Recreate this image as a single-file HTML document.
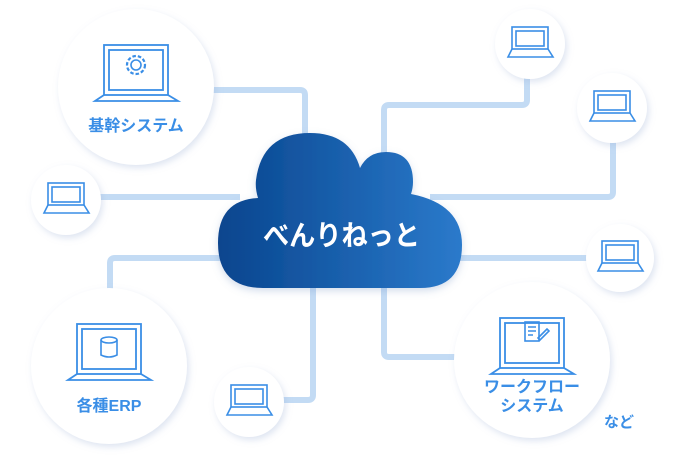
<!DOCTYPE html>
<html><head><meta charset="utf-8"><style>
html,body{margin:0;padding:0;background:#fff;}
svg{display:block;}
.t{font-family:"Liberation Sans","Noto Sans CJK JP",sans-serif;font-weight:bold;fill:#3a8ee6;}
</style></head><body>
<svg width="680" height="468" viewBox="0 0 680 468" xmlns="http://www.w3.org/2000/svg">
<defs>
<filter id="sh" x="-30%" y="-30%" width="160%" height="160%">
<feDropShadow dx="2" dy="3" stdDeviation="3.5" flood-color="#9fb4d6" flood-opacity="0.35"/>
</filter>
<filter id="sh2" x="-20%" y="-20%" width="140%" height="140%">
<feDropShadow dx="0" dy="3" stdDeviation="4" flood-color="#6d8fbf" flood-opacity="0.3"/>
</filter>
<linearGradient id="cg" gradientUnits="userSpaceOnUse" x1="218" y1="0" x2="462" y2="0">
<stop offset="0" stop-color="#08458e"/>
<stop offset="1" stop-color="#2b7acb"/>
</linearGradient>
<g id="sl" fill="none" stroke="#3a8ee6" stroke-width="1.6">
<rect x="-18" y="-17" width="36" height="22"/>
<rect x="-14" y="-13" width="28" height="15"/>
<path d="M-18 5 L-22 13 L23 13 L18 5"/>
</g>
<g id="bl" fill="none" stroke="#3a8ee6" stroke-width="1.8">
<rect x="-32" y="-42" width="64" height="50"/>
<rect x="-27" y="-37" width="54" height="40"/>
<path d="M-32 8 L-41 14 L42 14 L32 8"/>
</g>
</defs>

<g fill="none" stroke="#c3dbf4" stroke-width="6" stroke-linejoin="round">
<path d="M210 90 H300 Q305 90 305 95 V140"/>
<path d="M100 197 H240"/>
<path d="M110 292 V263 Q110 258 115 258 H240"/>
<path d="M313 280 V395 Q313 400 308 400 H280"/>
<path d="M384 280 V352 Q384 357 389 357 H460"/>
<path d="M440 258 H590"/>
<path d="M430 197 H608 Q613 197 613 192 V140"/>
<path d="M384 160 V110 Q384 105 389 105 H522 Q527 105 527 100 V75"/>
</g>

<g filter="url(#sh2)">
<path fill="url(#cg)" d="M263 288 Q218 288 218 243 Q218 200 258 198 Q255 188 256 180 Q262 133 310 133 Q350 133 360 168 Q368 152 386 152 Q413 152 413 182 Q413 188 411 194 Q462 204 462 245 Q462 288 420 288 Z"/>
</g>
<text x="263" y="245" textLength="157" lengthAdjust="spacingAndGlyphs" font-family="'Liberation Sans','Noto Sans CJK JP',sans-serif" font-weight="bold" font-size="28" fill="#fff">べんりねっと</text>

<g fill="#fff" filter="url(#sh)">
<circle cx="136" cy="87" r="78"/>
<circle cx="66" cy="200" r="35"/>
<circle cx="109" cy="366" r="78"/>
<circle cx="249" cy="402" r="35"/>
<circle cx="532" cy="360" r="78"/>
<circle cx="530" cy="44" r="35"/>
<circle cx="612" cy="108" r="35"/>
<circle cx="620" cy="258" r="34"/>
</g>

<use href="#sl" x="530" y="44"/>
<use href="#sl" x="612" y="108"/>
<use href="#sl" x="620" y="258"/>
<use href="#sl" x="66" y="200"/>
<use href="#sl" x="249" y="402"/>

<use href="#bl" x="136" y="87"/>
<g fill="none" stroke="#3a8ee6" stroke-width="1.6">
<circle cx="136" cy="65" r="5"/>
<circle cx="136" cy="65" r="9" stroke-dasharray="3.5 2" stroke-width="2.2"/>
</g>
<text class="t" x="136" y="131" font-size="16" text-anchor="middle">基幹システム</text>

<use href="#bl" x="109" y="366"/>
<g fill="none" stroke="#3a8ee6" stroke-width="1.6">
<ellipse cx="109" cy="340" rx="8" ry="3"/>
<path d="M101 340 V355 Q109 359 117 355 V340"/>
</g>
<text class="t" x="109" y="411" font-size="16" text-anchor="middle">各種ERP</text>

<use href="#bl" x="532" y="360"/>
<g fill="none" stroke="#3a8ee6" stroke-width="1.6">
<rect x="525" y="322" width="14" height="19"/>
<path d="M528 327 H536 M528 331 H536 M528 335 H533"/>
<path d="M538 338 L547 329 L549 331 L540 340 Z"/>
</g>
<text class="t" x="532" y="392" font-size="16" text-anchor="middle">ワークフロー</text>
<text class="t" x="532" y="411" font-size="16" text-anchor="middle">システム</text>

<text class="t" x="604" y="427" font-size="15">など</text>
</svg>
</body></html>
